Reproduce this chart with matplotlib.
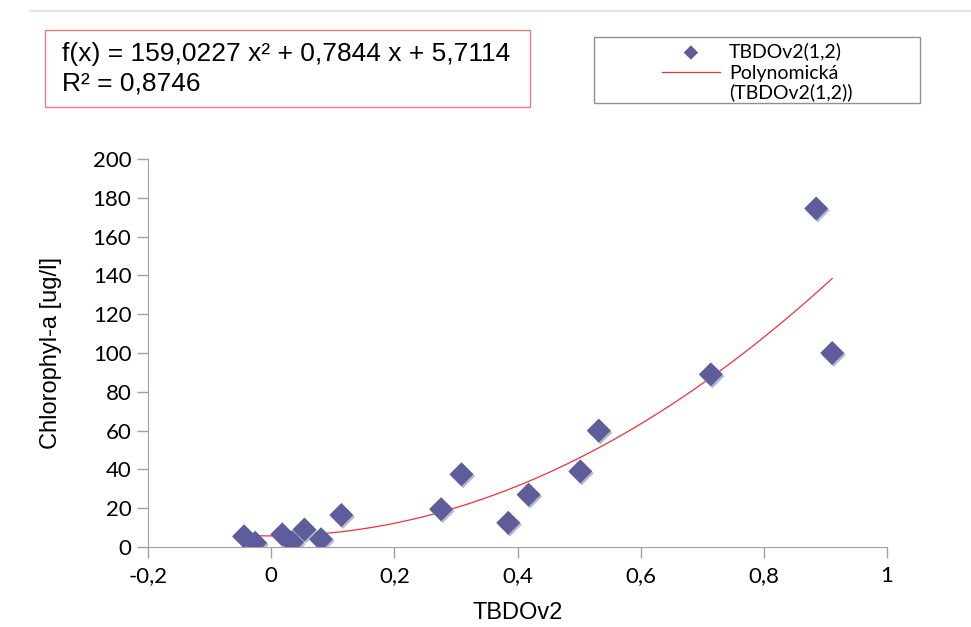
import numpy as np
import matplotlib
matplotlib.use('Agg')
from matplotlib import pyplot as plt
from matplotlib.patches import Rectangle
from matplotlib.lines import Line2D

# TBDOv2 vs chlorophyl-a
tbdo = [-0.044, -0.026, 0.018, 0.034, 0.054, 0.081, 0.114, 0.276, 0.309,
        0.385, 0.418, 0.502, 0.532, 0.714, 0.885, 0.911]
chla = [5.5, 2.2, 6.5, 2.5, 9.0, 4.0, 16.5, 19.5, 37.5,
        12.5, 27.0, 39.0, 60.0, 89.0, 174.5, 100.0]
coef = [159.0227, 0.7844, 5.7114]
r2 = 0.8746
xticks = [-0.2, 0, 0.2, 0.4, 0.6, 0.8, 1]
xtick_labels = ['-0,2', '0', '0,2', '0,4', '0,6', '0,8', '1']
yticks = [0, 20, 40, 60, 80, 100, 120, 140, 160, 180, 200]

W, H = 971, 627
fig = plt.figure(figsize=(W / 100, H / 100), dpi=100)
ax = fig.add_axes([148 / W, 1 - 547 / H, (887 - 148) / W, (547 - 159) / H])

xs = np.linspace(min(tbdo), max(tbdo), 200)
ax.plot(xs, np.polyval(coef, xs), color='#f0303c', lw=0.9, zorder=2,
        label='Polynomická')
# soft shadow under the markers
ax.scatter(np.array(tbdo) + 0.0025, np.array(chla) - 1.0, marker='D', s=150,
           color='#b8b8d0', edgecolors='none', zorder=3)
ax.scatter(tbdo, chla, marker='D', s=150, color='#5d5d9c', edgecolors='none',
           zorder=4, label='TBDOv2(1,2)')

ax.set_xlim(-0.2, 1)
ax.set_ylim(0, 200)
ax.set_xticks(xticks)
ax.set_xticklabels(xtick_labels)
ax.set_yticks(yticks)
ax.tick_params(axis='both', labelsize=16, color='#a0a0a0', length=8,
               width=1, direction='out')
ax.tick_params(axis='x', pad=6)
ax.tick_params(axis='y', pad=4)
for lab in ax.get_xticklabels() + ax.get_yticklabels():
    lab.set_family('Lato')
for s in ['top', 'right']:
    ax.spines[s].set_visible(False)
for s in ['left', 'bottom']:
    ax.spines[s].set_color('#a0a0a0')

ax.set_xlabel('TBDOv2', fontsize=17, family='Liberation Sans', labelpad=11)
ax.set_ylabel('Chlorophyl-a [ug/l]', fontsize=17, family='Liberation Sans',
              labelpad=22)

# faint frame line at the top of the image
fig.lines.append(Line2D([30 / W, 1], [1 - 11 / H, 1 - 11 / H],
                        transform=fig.transFigure, color='#e4e4e4', lw=1.5))

# equation box
fig.patches.append(Rectangle((45 / W, 1 - 107 / H), 485 / W, 77 / H,
                             transform=fig.transFigure, fill=False,
                             edgecolor='#f07a80', lw=1))
fig.text(62 / W, 1 - 54 / H, 'f(x) = 159,0227 x² + 0,7844 x + 5,7114',
         fontsize=19, family='Liberation Sans', va='center')
fig.text(62 / W, 1 - 84 / H, 'R² = 0,8746', fontsize=19,
         family='Liberation Sans', va='center')

# legend box
fig.patches.append(Rectangle((594 / W, 1 - 103 / H), 326 / W, 66 / H,
                             transform=fig.transFigure, fill=False,
                             edgecolor='#909090', lw=1))
h, l = ax.get_legend_handles_labels()
leg = fig.legend([h[1], h[0]], [l[1], l[0]], loc='upper left',
                 bbox_to_anchor=(652 / W, 1 - 33 / H), frameon=False,
                 prop={'family': 'Lato', 'size': 14}, handlelength=3.0,
                 handletextpad=0.45, labelspacing=0.2, borderpad=0,
                 markerscale=0.6)
# second line of the trend-line label
fig.text(729 / W, 1 - 92 / H, '(TBDOv2(1,2))', fontsize=14, family='Lato',
         va='center')

fig.savefig('out.png', dpi=100)
